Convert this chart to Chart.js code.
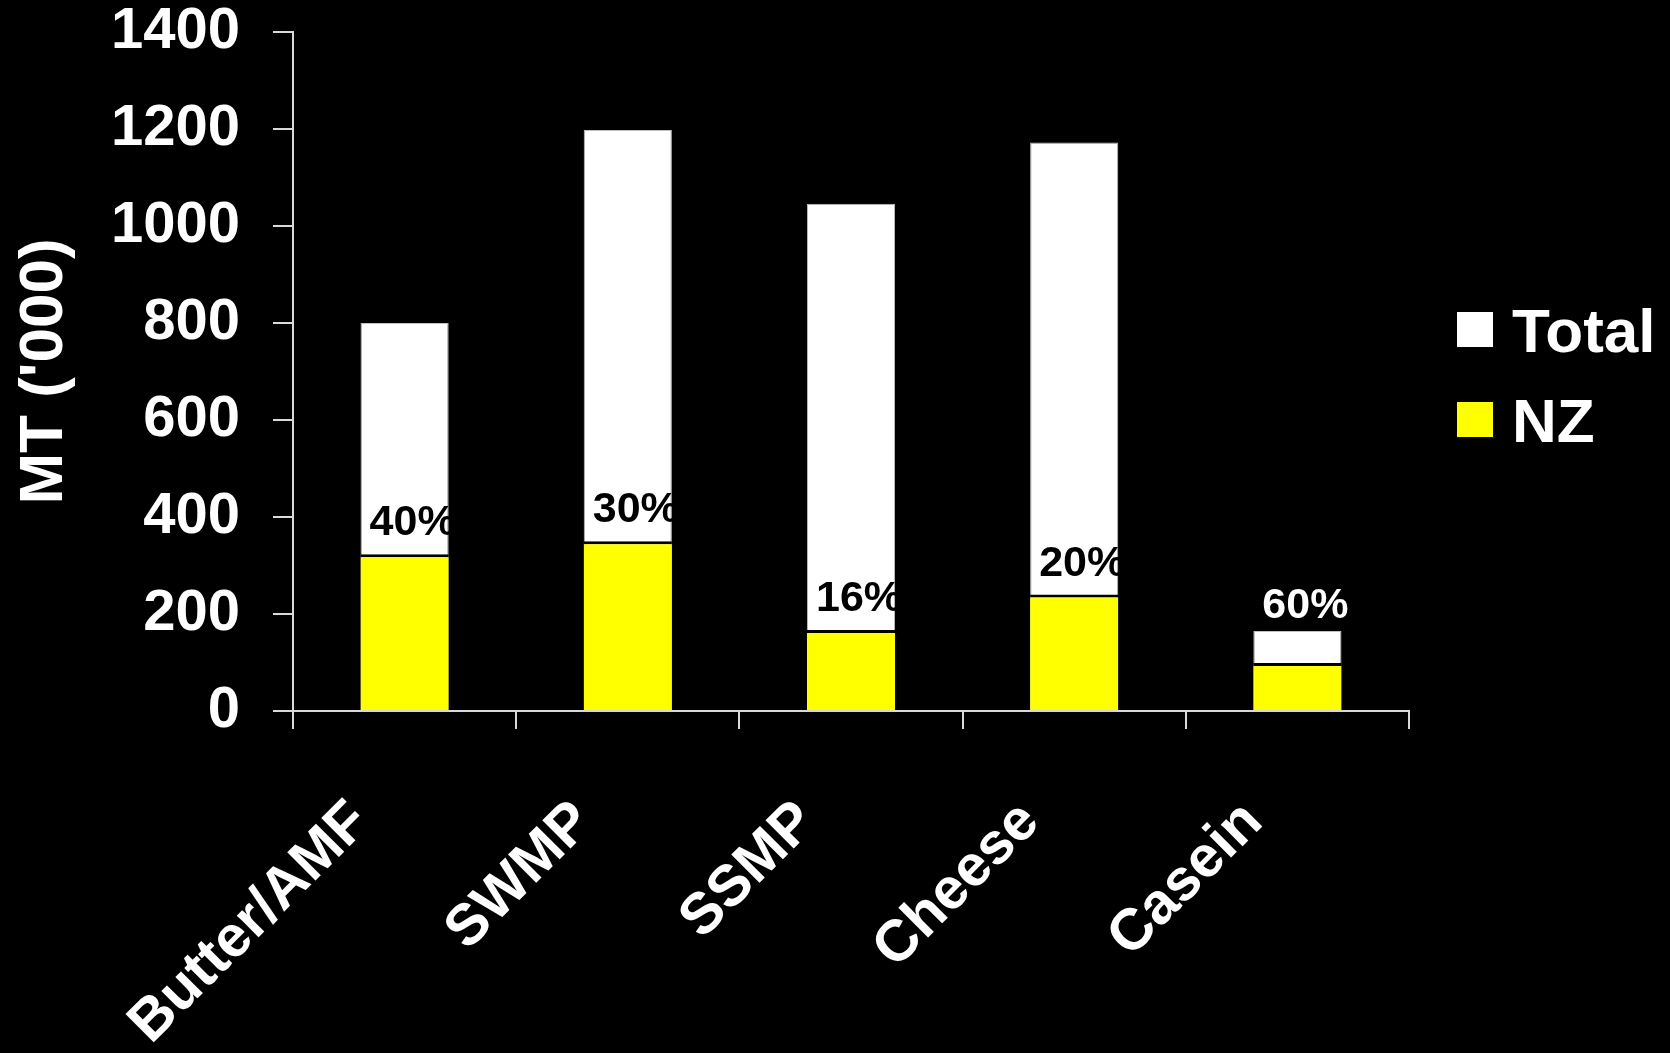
<!DOCTYPE html>
<html>
<head>
<meta charset="utf-8">
<title>Dairy trade: NZ share</title>
<script src="https://cdn.jsdelivr.net/npm/chart.js@4.4.1/dist/chart.umd.min.js"></script>
<style>
  html, body { margin: 0; padding: 0; background: #000; }
  canvas { display: block; }
</style>
</head>
<body>
<canvas id="tradeChart" width="1670" height="1053"></canvas>
<script>
// Volumes in MT ('000)
const categories = ['Butter/AMF', 'SWMP', 'SSMP', 'Cheese', 'Casein'];
const totalValues = [800, 1198, 1046, 1172, 165];
const nzValues = [323, 350, 167, 240, 99];
const nzShare = ['40%', '30%', '16%', '20%', '60%'];
const yTicks = [0, 200, 400, 600, 800, 1000, 1200, 1400];

const FONT = "'Liberation Sans', Arial, sans-serif";
const AXIS_COLOR = '#d9d9d9';

// Share labels: sit above the NZ bar while there is room in the white part,
// otherwise go above the whole bar in white
const shareLabels = {
    id: 'shareLabels',
    afterDatasetsDraw(chart) {
        const ctx = chart.ctx;
        const totalBars = chart.getDatasetMeta(0).data;
        const nzBars = chart.getDatasetMeta(1).data;
        ctx.save();
        ctx.font = 'bold 43px ' + FONT;
        ctx.textAlign = 'center';
        ctx.textBaseline = 'alphabetic';
        nzBars.forEach((bar, i) => {
            const top = totalBars[i].y;
            const x = bar.x + 8;
            if (bar.y - top > 60) {
                ctx.fillStyle = '#000';
                ctx.fillText(nzShare[i], x, bar.y - 19);
            } else {
                ctx.fillStyle = '#fff';
                ctx.fillText(nzShare[i], x, top - 13);
            }
        });
        ctx.restore();
    }
};

// Legend on the right, drawn by hand
const sideLegend = {
    id: 'sideLegend',
    afterDraw(chart) {
        const ctx = chart.ctx;
        ctx.save();
        ctx.font = 'bold 62px ' + FONT;
        ctx.textBaseline = 'alphabetic';
        chart.data.datasets.forEach((ds, i) => {
            const y = 312 + i * 90;
            ctx.fillStyle = ds.backgroundColor;
            ctx.fillRect(1457, y, 36, 35);
            ctx.fillStyle = '#fff';
            ctx.fillText(ds.label, 1512, y + 40);
        });
        ctx.restore();
    }
};

new Chart(document.getElementById('tradeChart'), {
    type: 'bar',
    data: {
        labels: categories,
        datasets: [
            {
                label: 'Total',
                data: totalValues,
                backgroundColor: '#ffffff',
                borderColor: '#bfbfbf',
                borderWidth: 1,
                grouped: false,
                order: 2
            },
            {
                label: 'NZ',
                data: nzValues,
                backgroundColor: '#ffff00',
                borderColor: '#000000',
                borderWidth: { top: 3, right: 0, bottom: 0, left: 0 },
                borderSkipped: false,
                grouped: false,
                order: 1
            }
        ]
    },
    options: {
        responsive: false,
        animation: false,
        barPercentage: 0.395,
        categoryPercentage: 1,
        layout: { padding: { top: 32, right: 261, bottom: 0, left: 0 } },
        plugins: {
            legend: { display: false },
            tooltip: { enabled: false }
        },
        scales: {
            x: {
                grid: {
                    offset: true,
                    drawOnChartArea: false,
                    color: AXIS_COLOR,
                    lineWidth: 2,
                    tickLength: 18
                },
                border: { color: AXIS_COLOR, width: 2 },
                ticks: {
                    color: '#fff',
                    font: { family: FONT, size: 58, weight: 'bold' },
                    minRotation: 45,
                    maxRotation: 45,
                    autoSkip: false,
                    labelOffset: -44,
                    padding: 59
                },
                afterFit(scale) { scale.height = 342; }
            },
            y: {
                min: 0,
                max: 1400,
                afterBuildTicks(scale) { scale.ticks = yTicks.map(v => ({ value: v })); },
                grid: {
                    drawOnChartArea: false,
                    color: AXIS_COLOR,
                    lineWidth: 2,
                    tickLength: 20
                },
                border: { color: AXIS_COLOR, width: 2 },
                ticks: {
                    color: '#fff',
                    font: { family: FONT, size: 58, weight: 'bold', lineHeight: 1 },
                    padding: 33,
                    callback: v => String(v)
                },
                title: {
                    display: true,
                    text: "MT ('000)",
                    color: '#fff',
                    font: { family: FONT, size: 62, weight: 'bold', lineHeight: 1.2 },
                    padding: { top: 8, bottom: 0 }
                },
                afterFit(scale) {
                    // fixed axis width; the 1400 label may run into the top margin
                    scale.width = 293;
                    scale.paddingTop = 0;
                    scale.paddingBottom = 0;
                }
            }
        }
    },
    plugins: [shareLabels, sideLegend]
});
</script>
</body>
</html>
